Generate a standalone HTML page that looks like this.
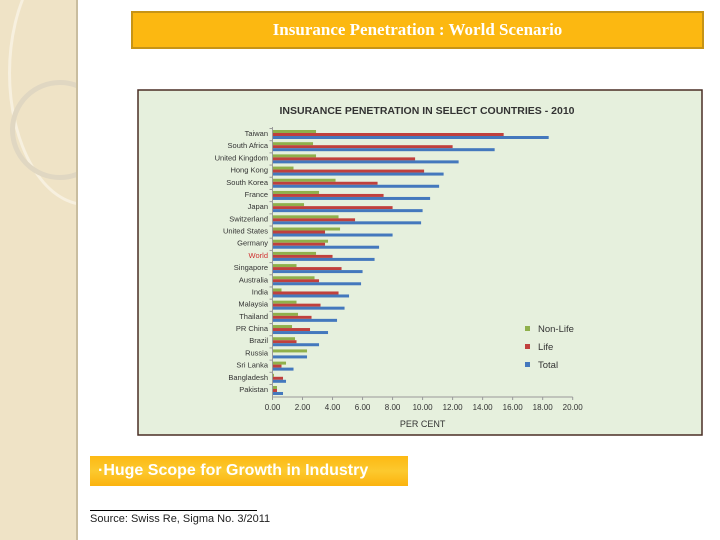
<!DOCTYPE html>
<html><head><meta charset="utf-8"><style>
body{margin:0;width:720px;height:540px;background:#fff;position:relative;overflow:hidden;font-family:"Liberation Sans",sans-serif}
</style></head><body>
<div style="position:absolute;left:0;top:0;width:76px;height:540px;background:#efe3c6;border-right:2px solid #c9bd9f;overflow:hidden">
<div style="position:absolute;left:8px;top:-60px;width:150px;height:260px;border-radius:50%;border:3px solid #f7f0df"></div>
<div style="position:absolute;left:10px;top:80px;width:90px;height:90px;border-radius:50%;border:5px solid #e0d7c2"></div>
</div>
<div style="position:absolute;left:131px;top:11px;width:569px;height:34px;background:#fcb811;border:2px solid #c79416;color:#fff;font-family:'Liberation Serif',serif;font-weight:bold;font-size:17px;text-align:center;line-height:34px">Insurance Penetration : World Scenario</div>
<svg id="chart" style="position:absolute;left:0;top:0" width="720" height="540"></svg>
<div style="position:absolute;left:90px;top:456px;width:318px;height:30px;background:linear-gradient(#fdb913,#fcc92e 50%,#fbb30e);color:#fff;font-weight:bold;font-size:16px;line-height:30px;padding-left:8px;box-sizing:border-box">·Huge Scope for Growth in Industry</div>
<div style="position:absolute;left:90px;top:510px;width:167px;height:1px;background:#000"></div>
<div style="position:absolute;left:90px;top:513px;font-size:11px;color:#222">Source: Swiss Re, Sigma No. 3/2011</div>
<script>
const countries=["Taiwan","South Africa","United Kingdom","Hong Kong","South Korea","France","Japan","Switzerland","United States","Germany","World","Singapore","Australia","India","Malaysia","Thailand","PR China","Brazil","Russia","Sri Lanka","Bangladesh","Pakistan"];
const nonLife=[2.9,2.7,2.9,1.4,4.2,3.1,2.1,4.4,4.5,3.7,2.9,1.6,2.8,0.6,1.6,1.7,1.3,1.5,2.3,0.9,0.1,0.3];
const life=[15.4,12.0,9.5,10.1,7.0,7.4,8.0,5.5,3.5,3.5,4.0,4.6,3.1,4.4,3.2,2.6,2.5,1.6,0.0,0.6,0.7,0.3];
const total=[18.4,14.8,12.4,11.4,11.1,10.5,10.0,9.9,8.0,7.1,6.8,6.0,5.9,5.1,4.8,4.3,3.7,3.1,2.3,1.4,0.9,0.7];
const ticks=[0,2,4,6,8,10,12,14,16,18,20];
const svg=document.getElementById('chart');const NS='http://www.w3.org/2000/svg';
function mk(t,a,txt){const e=document.createElementNS(NS,t);for(const k in a)e.setAttribute(k,a[k]);if(txt!=null)e.textContent=txt;svg.appendChild(e);return e;}
const x0=272.5,x1=572.7,y0=130,step=12.19;
const xs=v=>x0+(x1-x0)*v/20;
const ys=i=>y0+i*step;
let e=mk('rect',{x:138,y:90,width:564,height:345,fill:'#e6f0dd',stroke:'#4a2e25','stroke-width':1.5});


e=mk('text',{x:427,y:114,'text-anchor':'middle','font-size':10.5,'font-weight':'bold',fill:'#333','font-family':'Liberation Sans'},'INSURANCE PENETRATION IN SELECT COUNTRIES - 2010');


const cols=['#8fb04b','#c0403d','#4478bd'];const series=[nonLife,life,total];
countries.forEach((c,i)=>{
 const yc=ys(i);
 let t=mk('text',{x:268,y:yc+6,'text-anchor':'end','font-size':7.5,fill:c==='World'?'#d03030':'#333'},c);
 
 
 series.forEach((s,k)=>{
  const b=mk('rect',{x:x0,y:yc+k*3,width:Math.max(0,xs(s[i])-x0),height:3,fill:cols[k]});
  
  
 });
 mk('line',{x1:x0-3,x2:x0,y1:yc-1.5,y2:yc-1.5,stroke:'#999'});
});
e=mk('line',{x1:x0,x2:x0,y1:127,y2:397,stroke:'#999'});


e=mk('line',{x1:x0,x2:x1,y1:397,y2:397,stroke:'#999'});


ticks.forEach(v=>{
 mk('line',{x1:xs(v),x2:xs(v),y1:397,y2:400,stroke:'#999'});
 const t=mk('text',{x:xs(v),y:410,'text-anchor':'middle','font-size':8,fill:'#333'},v.toFixed(2));
 
 
});
e=mk('text',{x:x0+(x1-x0)/2,y:427,'text-anchor':'middle','font-size':9,fill:'#333'},'PER CENT');


['Non-Life','Life','Total'].forEach((n,k)=>{
 const r=mk('rect',{x:525,y:326+k*18,width:5,height:5,fill:cols[k]});
 
 
 const t=mk('text',{x:538,y:332+k*18,'font-size':9.5,fill:'#333'},n);
 
 
});
</script>
</body></html>
